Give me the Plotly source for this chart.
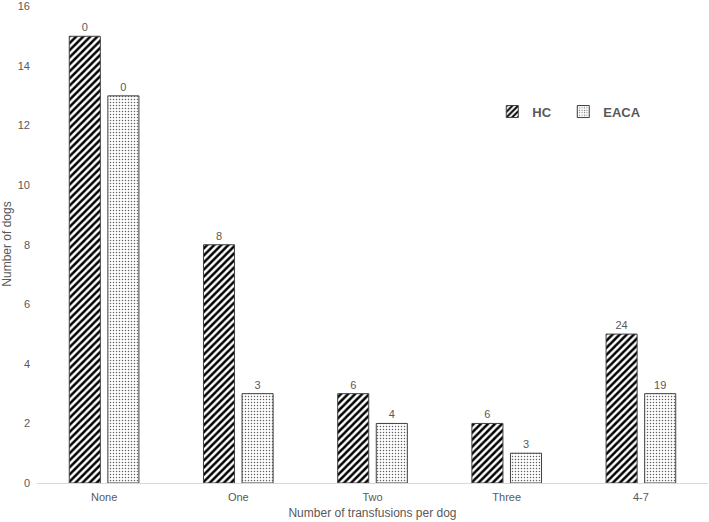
import plotly.graph_objects as go

categories = ["None", "One", "Two", "Three", "4-7"]
hc_values = [15, 8, 3, 2, 5]
eaca_values = [13, 3, 2, 1, 3]
hc_labels = ["0", "8", "6", "6", "24"]
eaca_labels = ["0", "3", "4", "3", "19"]
y_ticks = [0, 2, 4, 6, 8, 10, 12, 14, 16]

gray = "#595959"
font_family = "Liberation Sans, Arial, sans-serif"

fig = go.Figure()
fig.add_trace(go.Bar(
    name="HC\u00a0\u00a0", x=categories, y=hc_values,
    text=hc_labels, textposition="outside", cliponaxis=False,
    textfont=dict(size=11, color=gray),
    marker=dict(color="white", line=dict(color="#404040", width=1),
                pattern=dict(shape="/", fgcolor="black", bgcolor="white",
                             size=5, solidity=0.5, fillmode="replace")),
))
fig.add_trace(go.Bar(
    name="EACA", x=categories, y=eaca_values,
    text=eaca_labels, textposition="outside", cliponaxis=False,
    textfont=dict(size=11, color=gray),
    marker=dict(color="white", line=dict(color="#404040", width=1),
                pattern=dict(shape=".", fgcolor="#606060", bgcolor="white",
                             size=3, solidity=0.2, fillmode="replace")),
))

fig.update_layout(
    width=709, height=522,
    margin=dict(l=37, r=1, t=5, b=39),
    paper_bgcolor="white", plot_bgcolor="white",
    barmode="group", bargap=0.425, bargroupgap=0.195,
    font=dict(family=font_family, size=11, color=gray),
    showlegend=True,
    legend=dict(orientation="h", x=0.6785, y=0.777, xanchor="left", yanchor="middle",
                font=dict(size=13, color=gray, family=font_family, weight="bold"),
                bgcolor="rgba(0,0,0,0)", itemwidth=30, traceorder="normal"),
    xaxis=dict(title=dict(text="Number of transfusions per dog", font=dict(size=12, color=gray), standoff=6),
               showline=True, linecolor="#d9d9d9", linewidth=1, ticks="",
               ticklabelstandoff=4, tickfont=dict(size=11, color=gray)),
    yaxis=dict(title=dict(text="Number of dogs", font=dict(size=12, color=gray), standoff=6),
               range=[0, 16.05], tickvals=y_ticks, showgrid=False, zeroline=False,
               showline=False, ticks="", ticklabelstandoff=6,
               tickfont=dict(size=11, color=gray)),
)

fig.write_html("out.html", post_script="document.body.style.margin='0';",
               config={"displayModeBar": False})
